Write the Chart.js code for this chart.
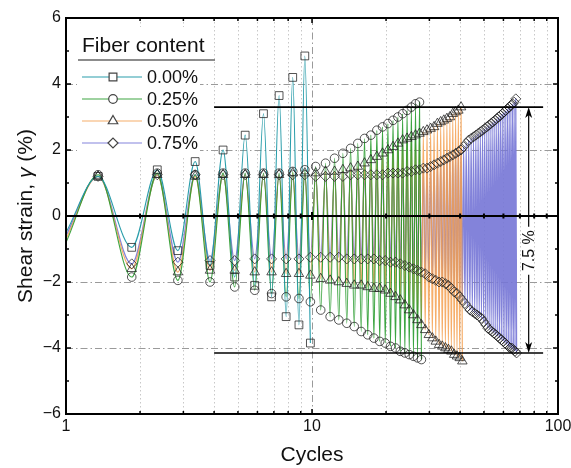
<!DOCTYPE html>
<html>
<head>
<meta charset="utf-8">
<script src="https://cdn.jsdelivr.net/npm/chart.js@4.4.1/dist/chart.umd.min.js"></script>
<style>
  html, body { margin: 0; padding: 0; background: #fff; overflow: hidden; }
</style>
</head>
<body>
<canvas id="strainChart" width="571" height="468"></canvas>
<script>
// Shear strain peaks per loading cycle (%)
const seriesLabels = ['0.00%', '0.25%', '0.50%', '0.75%'];
const startStrain = [-0.5, -0.8, -0.7, -0.6];

const upper000 = [1.2, 1.4, 1.65, 2.0, 2.45, 3.1, 3.65, 4.2, 4.85];
const lower000 = [-0.95, -1.05, -1.5, -1.85, -2.1, -2.45, -3.05, -3.3, -3.85];

const upper025 = [1.25, 1.3, 1.25, 1.3, 1.3, 1.3, 1.3, 1.35, 1.4,
  1.5, 1.6, 1.75, 1.9, 2.05, 2.2, 2.35, 2.45, 2.6, 2.7,
  2.8, 2.9, 3.0, 3.1, 3.2, 3.3, 3.4, 3.45];
const lower025 = [-1.85, -1.95, -2.0, -2.15, -2.25, -2.35, -2.45, -2.5, -2.6,
  -2.85, -3.05, -3.15, -3.25, -3.35, -3.5, -3.6, -3.7, -3.8, -3.85,
  -3.95, -4.0, -4.1, -4.15, -4.2, -4.25, -4.3, -4.35];

const upper050 = [1.2, 1.25, 1.2, 1.25, 1.25, 1.25, 1.25, 1.3, 1.3, 1.3,
  1.35, 1.35, 1.4, 1.45, 1.5, 1.6, 1.7, 1.8, 1.9, 2.0,
  2.1, 2.2, 2.3, 2.35, 2.4, 2.45, 2.5, 2.55, 2.6, 2.65,
  2.7, 2.8, 2.85, 2.9, 2.95, 3.0, 3.1, 3.15, 3.2, 3.3];
const lower050 = [-1.6, -1.7, -1.65, -1.65, -1.7, -1.7, -1.75, -1.75, -1.8, -1.9,
  -1.95, -2.0, -2.05, -2.1, -2.1, -2.15, -2.2, -2.2, -2.25, -2.35,
  -2.45, -2.55, -2.7, -2.85, -3.0, -3.15, -3.3, -3.45, -3.6, -3.7,
  -3.8, -3.9, -3.95, -4.0, -4.05, -4.1, -4.2, -4.25, -4.3, -4.4];

const upper075 = [1.2, 1.25, 1.25, 1.25, 1.25, 1.25, 1.25, 1.25, 1.25, 1.2,
  1.2, 1.2, 1.2, 1.25, 1.25, 1.25, 1.25, 1.25, 1.25, 1.3,
  1.3, 1.3, 1.3, 1.35, 1.35, 1.4, 1.4, 1.45, 1.45, 1.5,
  1.55, 1.6, 1.65, 1.7, 1.75, 1.8, 1.85, 1.9, 1.95, 2.0,
  2.1, 2.2, 2.3, 2.35, 2.4, 2.45, 2.5, 2.55, 2.6, 2.65,
  2.7, 2.75, 2.8, 2.85, 2.9, 2.95, 3.0, 3.05, 3.1, 3.15,
  3.2, 3.25, 3.3, 3.35, 3.4, 3.45, 3.55];
const lower075 = [-1.45, -1.4, -1.35, -1.35, -1.3, -1.3, -1.3, -1.3, -1.25, -1.25,
  -1.25, -1.25, -1.3, -1.3, -1.3, -1.3, -1.3, -1.35, -1.35, -1.4,
  -1.4, -1.45, -1.5, -1.55, -1.6, -1.65, -1.7, -1.75, -1.85, -1.9,
  -1.95, -2.0, -2.0, -2.05, -2.1, -2.2, -2.3, -2.35, -2.45, -2.55,
  -2.65, -2.75, -2.85, -2.9, -2.95, -3.0, -3.05, -3.1, -3.2, -3.3,
  -3.4, -3.45, -3.5, -3.55, -3.6, -3.65, -3.7, -3.75, -3.8, -3.85,
  -3.9, -3.95, -4.0, -4.0, -4.05, -4.1, -4.15];

// axes
const xTickLabels = [1, 10, 100];
const xMinorTicks = [2, 3, 4, 5, 6, 7, 8, 9, 20, 30, 40, 50, 60, 70, 80, 90];
const yTickValues = [-6, -4, -2, 0, 2, 4, 6];
const yMinorTicks = [-5, -3, -1, 1, 3, 5];
const yDashGrid = [-4, -2, 2, 4];

// failure criterion: double amplitude 7.5 %
const limitUpper = 3.3;
const limitLower = -4.15;
const limitLabel = '7.5 %';

const FONT = "'Liberation Sans', Arial, sans-serif";
const PEAK_PHASE = 0.35;   // peak sits ~0.35 cycle into each cycle
const TROUGH_PHASE = 0.85;

function cyclePoints(start, upper, lower) {
    const pts = [{ x: 1, y: start }];
    for (let i = 0; i < upper.length; i++) {
        pts.push({ x: i + 1 + PEAK_PHASE, y: upper[i] });
        pts.push({ x: i + 1 + TROUGH_PHASE, y: lower[i] });
    }
    return pts;
}

const series = [
    { upper: upper000, lower: lower000, color: 'rgba(30,152,165,0.95)', width: 1.1, marker: 'rect', r: 5.5 },
    { upper: upper025, lower: lower025, color: 'rgba(40,155,45,0.9)', width: 1.1, marker: 'circle', r: 4.3 },
    { upper: upper050, lower: lower050, color: 'rgba(244,160,80,0.85)', width: 1.2, marker: 'triangle', r: 5.5 },
    { upper: upper075, lower: lower075, color: 'rgba(118,118,214,0.9)', width: 1.3, marker: 'rectRot', r: 5 },
];

const lineSets = series.map((s, i) => ({
    label: seriesLabels[i],
    data: cyclePoints(startStrain[i], s.upper, s.lower),
    borderColor: s.color,
    borderWidth: s.width,
    pointRadius: 0,
    cubicInterpolationMode: 'monotone',
    order: 1,
}));

const markerSets = series.map((s, i) => ({
    label: seriesLabels[i] + ' markers',
    data: cyclePoints(startStrain[i], s.upper, s.lower),
    showLine: false,
    pointStyle: s.marker,
    pointRadius: (ctx) => (ctx.dataIndex === 0 ? 0 : s.r),
    pointBorderColor: 'rgba(30,30,30,0.85)',
    pointBackgroundColor: 'rgba(0,0,0,0)',
    pointBorderWidth: 0.9,
    order: 0,
}));

function strokeLine(ctx, x1, y1, x2, y2) {
    ctx.beginPath();
    ctx.moveTo(x1, y1);
    ctx.lineTo(x2, y2);
    ctx.stroke();
}

const decorations = {
    id: 'decorations',
    beforeDatasetsDraw(chart) {
        const { ctx, chartArea: a, scales: { x, y } } = chart;
        ctx.save();
        ctx.lineWidth = 1;
        // light dotted verticals
        ctx.strokeStyle = '#c8c8c8';
        ctx.setLineDash([1.5, 2.5]);
        xMinorTicks.forEach((v) => {
            const px = Math.round(x.getPixelForValue(v)) + 0.5;
            strokeLine(ctx, px, a.top, px, a.bottom);
        });
        // dash-dot grid
        ctx.strokeStyle = '#9a9a9a';
        ctx.setLineDash([7, 3, 1.5, 3]);
        const px10 = Math.round(x.getPixelForValue(10)) + 0.5;
        strokeLine(ctx, px10, a.top, px10, a.bottom);
        yDashGrid.forEach((v) => {
            const py = Math.round(y.getPixelForValue(v)) + 0.5;
            strokeLine(ctx, a.left, py, a.right, py);
        });
        ctx.restore();
    },
    afterDatasetsDraw(chart) {
        const { ctx, chartArea: a, scales: { x, y } } = chart;
        ctx.save();
        ctx.strokeStyle = '#000';
        ctx.fillStyle = '#000';

        // zero line with its own tick marks
        const y0 = y.getPixelForValue(0);
        ctx.lineWidth = 2.2;
        strokeLine(ctx, a.left, y0, a.right, y0);
        ctx.lineWidth = 2;
        xMinorTicks.forEach((v) => {
            const px = x.getPixelForValue(v);
            strokeLine(ctx, px, y0 - 2.5, px, y0 + 2.5);
        });
        strokeLine(ctx, x.getPixelForValue(10), y0 - 4, x.getPixelForValue(10), y0 + 4);

        // 7.5 % limit lines
        const xs = x.getPixelForValue(4);
        const xe = x.getPixelForValue(87);
        const yu = y.getPixelForValue(limitUpper);
        const yl = y.getPixelForValue(limitLower);
        ctx.lineWidth = 1.6;
        strokeLine(ctx, xs, yu, xe, yu);
        strokeLine(ctx, xs, yl, xe, yl);

        // double arrow with label
        const xa = x.getPixelForValue(76);
        const yt = y.getPixelForValue(-1.05);
        ctx.lineWidth = 1.2;
        strokeLine(ctx, xa, yu + 8, xa, yt - 24);
        strokeLine(ctx, xa, yt + 24, xa, yl - 8);
        ctx.beginPath();
        ctx.moveTo(xa, yu); ctx.lineTo(xa - 3.5, yu + 11); ctx.lineTo(xa, yu + 8); ctx.lineTo(xa + 3.5, yu + 11);
        ctx.closePath(); ctx.fill();
        ctx.beginPath();
        ctx.moveTo(xa, yl); ctx.lineTo(xa - 3.5, yl - 11); ctx.lineTo(xa, yl - 8); ctx.lineTo(xa + 3.5, yl - 11);
        ctx.closePath(); ctx.fill();
        ctx.save();
        ctx.translate(xa, yt);
        ctx.rotate(-Math.PI / 2);
        ctx.font = '16px ' + FONT;
        ctx.textAlign = 'center';
        ctx.textBaseline = 'middle';
        ctx.fillStyle = '#111';
        ctx.fillText(limitLabel, 0, 1);
        ctx.restore();

        // frame and inward ticks
        ctx.lineWidth = 2;
        ctx.strokeRect(a.left, a.top, a.right - a.left, a.bottom - a.top);
        ctx.lineWidth = 1.5;
        yTickValues.concat(yMinorTicks).forEach((v) => {
            const py = y.getPixelForValue(v);
            const len = v % 2 === 0 ? 5 : 3;
            strokeLine(ctx, a.left, py, a.left + len, py);
            strokeLine(ctx, a.right, py, a.right - len, py);
        });
        xMinorTicks.concat([10]).forEach((v) => {
            const px = x.getPixelForValue(v);
            const len = v === 10 ? 5 : 3;
            strokeLine(ctx, px, a.bottom, px, a.bottom - len);
            strokeLine(ctx, px, a.top, px, a.top + len);
        });

        // legend
        ctx.fillStyle = '#fff';
        ctx.fillRect(77, 27, 123, 130);
        ctx.fillStyle = '#111';
        ctx.font = '21px ' + FONT;
        ctx.textAlign = 'left';
        ctx.textBaseline = 'alphabetic';
        ctx.fillText('Fiber content', 82, 52);
        ctx.strokeStyle = '#666';
        ctx.lineWidth = 1.5;
        strokeLine(ctx, 78, 60, 215, 60);
        ctx.font = '18px ' + FONT;
        ctx.textBaseline = 'middle';
        series.forEach((s, i) => {
            const ry = 77 + i * 22;
            ctx.strokeStyle = s.color;
            ctx.lineWidth = 1.2;
            strokeLine(ctx, 82, ry, 142, ry);
            ctx.fillStyle = '#fff';
            ctx.strokeStyle = '#444';
            Chart.helpers.drawPoint(ctx, { pointStyle: s.marker, radius: s.r, rotation: 0, borderWidth: 1 }, 113, ry);
            ctx.fillStyle = '#111';
            ctx.fillText(seriesLabels[i], 147, ry + 1);
        });
        ctx.restore();
    },
    afterDraw(chart) {
        // y title with italic gamma
        const { ctx, chartArea: a } = chart;
        const parts = [['Shear strain, ', ''], ['\u03b3', 'italic '], [' (%)', '']];
        ctx.save();
        ctx.translate(26, (a.top + a.bottom) / 2);
        ctx.rotate(-Math.PI / 2);
        ctx.fillStyle = '#111';
        ctx.textBaseline = 'middle';
        let total = 0;
        parts.forEach((p) => { ctx.font = p[1] + '21px ' + FONT; total += ctx.measureText(p[0]).width; });
        let cx = -total / 2;
        parts.forEach((p) => {
            ctx.font = p[1] + '21px ' + FONT;
            ctx.fillText(p[0], cx, 0);
            cx += ctx.measureText(p[0]).width;
        });
        ctx.restore();
    },
};

new Chart(document.getElementById('strainChart').getContext('2d'), {
    type: 'line',
    data: { datasets: lineSets.concat(markerSets) },
    options: {
        responsive: false,
        animation: false,
        events: [],
        layout: { padding: { top: 18, right: 13, bottom: 0, left: 0 } },
        plugins: { legend: { display: false }, tooltip: { enabled: false } },
        scales: {
            x: {
                type: 'logarithmic',
                min: 1,
                max: 100,
                grid: { display: false, drawTicks: false },
                border: { display: false },
                afterBuildTicks: (s) => { s.ticks = xTickLabels.map((v) => ({ value: v })); },
                afterFit: (s) => { s.height = 54; s.paddingRight = 0; },
                ticks: {
                    autoSkip: false,
                    maxRotation: 0,
                    padding: 3,
                    color: '#111',
                    font: { family: FONT, size: 16 },
                    callback: (v) => String(v),
                },
                title: {
                    display: true,
                    text: 'Cycles',
                    color: '#111',
                    font: { family: FONT, size: 21 },
                    padding: { top: 0, bottom: 0 },
                },
            },
            y: {
                min: -6,
                max: 6,
                grid: { display: false, drawTicks: false },
                border: { display: false },
                afterBuildTicks: (s) => { s.ticks = yTickValues.map((v) => ({ value: v })); },
                afterFit: (s) => { s.width = 66; },
                ticks: {
                    padding: 5,
                    color: '#111',
                    font: { family: FONT, size: 16 },
                    callback: (v) => (v < 0 ? '\u2212' + Math.abs(v) : String(v)),
                },
            },
        },
    },
    plugins: [decorations],
});
</script>
</body>
</html>
